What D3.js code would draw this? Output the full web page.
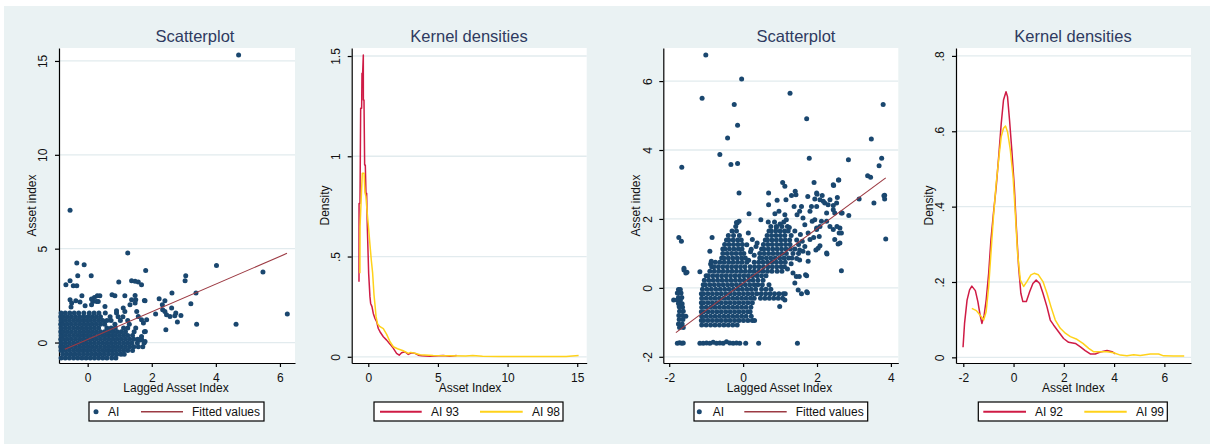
<!DOCTYPE html>
<html>
<head>
<meta charset="utf-8">
<script src="https://cdn.jsdelivr.net/npm/d3@7"></script>
<style>
  body { margin: 0; background: #fff; }
  text { font-family: "Liberation Sans", Arial, sans-serif; }
</style>
</head>
<body>
<svg width="1210" height="444"></svg>
<script>
// ---- data ----

// panel 1: scattered points [lagged, current]
const scatter1Points = [
  [4.71,15.32],[-0.55,7.05],[1.25,4.77],[4.02,4.11],[5.47,3.76],[6.23,1.52],[4.63,0.98],[3.40,0.98],
  [2.44,0.68],[-0.34,4.24],[-0.11,4.15],[0.11,3.56],[-0.31,3.56],[-0.55,3.29],[-0.68,3.08],[-0.45,3.03],
  [-0.34,3.03],[0.97,3.22],[1.37,3.29],[1.48,3.26],[1.58,3.22],[1.68,3.08],[1.81,3.84],[3.06,3.56],
  [3.04,3.29],[3.38,2.64],[2.63,2.64],[3.22,2.07],[2.23,2.33],[2.41,2.23],[2.33,2.01],[2.12,1.52],
  [2.34,1.75],[2.41,1.66],[2.57,1.39],[2.62,1.84],[2.75,1.57],[2.80,1.09],[2.91,1.44],[2.72,1.43],
  [2.46,1.48],[1.84,1.21],[1.80,0.59],[1.79,0.05],[1.79,2.23],[1.50,2.28],[1.16,2.49],[0.76,2.55],
  [0.85,2.49],[0.38,2.49],[0.21,2.40],[0.33,2.19],[0.16,2.19],[-0.18,2.49],[-0.37,2.23],[-0.55,2.28],
  [-0.50,2.10],[-0.52,1.89],[-0.24,2.16],[-0.08,1.96],[0.12,2.01],[0.28,2.19],[0.54,1.92],[1.37,2.28],
  [1.11,1.84],[1.16,1.66],[1.53,1.66],[1.58,1.39],[1.68,1.21],[1.74,1.04],[1.48,2.51],[1.77,2.24],
  [1.32,2.01],[1.48,2.10],[0.90,1.69],[0.30,2.49],[0.12,2.32],[1.68,0.32],[1.63,0.14]
];
// panel 1: dense core, rows of [current, [lagged values]]
const scatter1Core = [
  [-0.82, [-0.83,-0.70,-0.57,-0.44,-0.31,-0.18,-0.05,0.08,0.21,0.34,0.47,0.60,0.75,0.88]],
  [-0.62, [-0.78,-0.65,-0.52,-0.39,-0.26,-0.13,0.00,0.13,0.26,0.39,0.52,0.65,0.78,0.91,1.04,1.14]],
  [-0.42, [-0.83,-0.70,-0.57,-0.44,-0.31,-0.18,-0.05,0.08,0.21,0.34,0.47,0.60,0.73,0.86,0.99,1.12,1.25,1.40]],
  [-0.22, [-0.84,-0.77,-0.64,-0.51,-0.38,-0.25,-0.12,0.01,0.14,0.27,0.40,0.53,0.66,0.79,0.92,1.05,1.18,1.31,1.44,1.58,1.72]],
  [-0.02, [-0.83,-0.70,-0.57,-0.44,-0.31,-0.18,-0.05,0.08,0.21,0.34,0.47,0.60,0.73,0.86,0.99,1.12,1.25,1.38,1.55,1.76]],
  [0.18, [-0.84,-0.77,-0.64,-0.51,-0.38,-0.25,-0.12,0.01,0.14,0.27,0.40,0.53,0.66,0.79,0.92,1.05,1.18,1.31,1.44,1.56,1.68]],
  [0.38, [-0.83,-0.70,-0.57,-0.44,-0.31,-0.18,-0.05,0.08,0.21,0.34,0.47,0.60,0.73,0.86,0.99,1.12,1.25,1.40]],
  [0.58, [-0.84,-0.77,-0.64,-0.51,-0.38,-0.25,-0.12,0.01,0.14,0.27,0.40,0.53,0.66,0.79,0.92,1.05,1.18,1.45,1.77]],
  [0.78, [-0.83,-0.70,-0.57,-0.44,-0.31,-0.18,-0.05,0.08,0.21,0.34,0.60,0.73,0.86,1.12,1.25,1.50]],
  [0.98, [-0.84,-0.77,-0.64,-0.51,-0.38,-0.25,-0.12,0.01,0.14,0.27,0.40,0.53,0.85,1.30]],
  [1.18, [-0.83,-0.70,-0.57,-0.44,-0.31,-0.18,-0.05,0.08,0.21,0.34,0.47,0.60,0.73,1.02,1.25]],
  [1.38, [-0.84,-0.77,-0.64,-0.51,-0.38,-0.25,-0.12,0.01,0.14,0.27,0.40,0.70,0.95,1.10]],
  [1.58, [-0.83,-0.70,-0.56,-0.42,-0.28,-0.12,0.05,0.20,0.35,0.55,0.90]]
];
const fit1 = [[-0.71,-0.36],[6.22,4.75]];

// panel 2: kernel densities
const kdAI93 = [
  [-0.667,0.374],[-0.662,0.765],[-0.595,0.765],[-0.547,1.239],[-0.476,1.239],[-0.452,1.414],[-0.404,1.414],
  [-0.356,1.505],[-0.352,1.281],[-0.308,1.281],[-0.26,0.957],[-0.213,0.957],[-0.165,0.815],[-0.117,0.815],
  [-0.069,0.649],[0.027,0.416],[0.12,0.30],[0.17,0.266],[0.265,0.25],[0.36,0.216],[0.48,0.191],[0.60,0.175],
  [0.72,0.141],[0.84,0.125],[1.08,0.100],[1.32,0.083],[1.56,0.063],[1.80,0.042],[2.03,0.017],[2.22,0.008],
  [2.39,0.02],[2.63,0.025],[2.87,0.012],[3.11,0.02],[3.35,0.017],[3.59,0.008],[3.83,0.005],[4.43,0.003],
  [5.38,0.006],[5.86,0.003],[6.34,0.006]
];
const kdAI98 = [
  [-0.60,0.416],[-0.59,0.65],[-0.43,0.915],[-0.30,0.915],[-0.24,0.82],[-0.17,0.80],[-0.08,0.72],[0.0,0.66],
  [0.12,0.56],[0.22,0.48],[0.31,0.42],[0.41,0.31],[0.48,0.26],[0.56,0.20],[0.66,0.165],[0.84,0.15],
  [1.08,0.14],[1.32,0.112],[1.56,0.075],[1.80,0.05],[2.10,0.04],[2.51,0.03],[2.87,0.017],[3.05,0.022],
  [3.35,0.018],[3.71,0.01],[4.66,0.006],[5.86,0.005],[7.0,0.004],[7.5,0.006],[8.2,0.003],[9.4,0.002],
  [12.0,0.002],[14.2,0.002],[15.1,0.006]
];

// panel 3: scattered points
const scatter2Points = [
  [-1.01,6.76],[-0.04,6.06],[-1.11,5.50],[-0.24,5.32],[1.27,5.65],[3.79,5.32],[-0.15,4.72],[1.72,4.91],
  [-0.42,4.35],[3.47,4.32],[-0.63,3.87],[-1.66,3.50],[-0.33,3.58],[-0.15,3.61],[1.79,3.76],[2.85,3.72],
  [3.75,3.76],[3.68,3.54],[3.37,3.25],[3.45,3.21],[1.07,3.06],[1.13,2.95],[1.92,3.06],[2.59,3.13],
  [2.45,2.97],[-0.11,2.75],[0.69,2.75],[1.41,2.80],[1.31,2.68],[1.99,2.75],[2.14,2.68],[1.75,2.65],
  [2.55,2.62],[3.83,2.69],[1.43,2.70],[0.69,2.41],[0.92,2.54],[1.16,2.56],[1.38,2.36],[1.58,2.36],
  [1.85,2.36],[1.94,2.58],[2.21,2.46],[2.30,2.41],[2.44,2.39],[2.48,2.17],[2.66,2.17],[2.86,2.10],
  [3.14,2.58],[3.54,2.46],[3.81,2.67],[3.83,2.58],[0.16,2.15],[0.48,1.98],[0.86,2.15],[0.97,2.22],
  [1.13,2.12],[1.17,1.98],[1.46,2.12],[1.53,2.22],[1.62,2.03],[1.67,1.83],[1.87,1.93],[1.99,1.74],
  [2.12,1.93],[2.26,1.93],[2.62,1.74],[2.66,1.59],[2.48,1.40],[2.62,1.30],[2.06,1.49],[2.26,1.01],
  [1.97,1.10],[2.66,0.50],[3.86,1.42],[-1.74,1.46],[-1.67,1.35],[-1.60,0.52],[-1.55,0.43],[-1.17,0.47],
  [-0.84,1.46],[-0.90,1.06],[-0.88,0.69],[-0.16,1.88],[-0.11,1.93],[0.14,1.59],[1.44,0.33],[1.49,-0.06],
  [1.72,-0.11],[1.69,0.38],[1.40,0.14],[0.99,-0.54],[1.13,-0.35],[1.47,-1.61],[0.42,-1.61],[0.07,-1.61],
  [2.35,1.78],[2.44,1.69],[2.26,2.17],[2.17,2.51],[2.35,2.56],[2.53,2.46],[2.44,2.27],[2.08,2.56],
  [1.99,2.36],[1.81,2.22],[1.94,1.98],[2.00,2.72],[1.76,1.59],[1.81,1.40],[1.67,1.20],[1.53,1.10],
  [1.76,1.01],[1.53,0.81],[1.76,0.77],[1.35,0.43],[1.52,0.33],[1.72,0.35],[1.58,-0.17],[1.74,-0.14],
  [2.03,1.15],[2.08,1.22],[1.91,1.46],[1.99,1.69],[2.08,1.78],[2.54,1.78],[2.60,1.59],[2.57,1.27],
  [2.27,0.98],[2.68,2.17],[2.44,2.99],[2.58,3.13],[-0.18,1.90],[-0.86,0.77],[-1.52,0.45],[-1.60,0.57],
  [0.20,1.05],[0.30,0.95],[0.35,1.20],[0.25,1.40],[0.90,1.75],[1.00,1.85],[1.25,1.75],[1.40,1.65],
  [1.55,1.55],[1.60,1.35],[1.50,1.00],[1.45,0.85],[1.30,0.70],[1.20,0.55],[1.62,1.06],[-1.88,-0.35],
  [0.15,0.80],[0.22,1.12],[0.38,1.30],[0.10,1.25],
  // left column near -1.7
  [-1.75,-0.05],[-1.70,-0.05],[-1.78,-0.15],[-1.68,-0.15],[-1.75,-0.28],[-1.66,-0.28],[-1.79,-0.35],
  [-1.70,-0.36],[-1.75,-0.45],[-1.65,-0.46],[-1.73,-0.55],[-1.64,-0.56],[-1.72,-0.68],[-1.62,-0.68],
  [-1.74,-0.80],[-1.64,-0.80],[-1.55,-0.82],[-1.73,-0.92],[-1.63,-0.92],[-1.75,-1.05],[-1.65,-1.05],
  [-1.72,-1.15],[-1.62,-1.15],
  // bottom row
  [-1.78,-1.61],[-1.72,-1.59],[-1.66,-1.61],[-1.62,-1.60],[-1.17,-1.61],[-1.08,-1.61],[-0.99,-1.60],
  [-0.90,-1.61],[-0.81,-1.58],[-0.72,-1.61],[-0.63,-1.60],[-0.54,-1.61],[-0.45,-1.56],[-0.36,-1.60],
  [-0.27,-1.61],[-0.18,-1.60],[-0.09,-1.61]
];
// panel 3: dense core rows
const scatter2Core = [
  [-1.08, [-1.12,-1.00,-0.88,-0.76,-0.64,-0.52,-0.40,-0.28,-0.16]],
  [-0.95, [-1.13,-1.07,-0.95,-0.83,-0.71,-0.59,-0.47,-0.35,-0.23,-0.11,0.01,0.13,0.25,0.31]],
  [-0.82, [-1.12,-1.00,-0.88,-0.76,-0.64,-0.52,-0.40,-0.28,-0.16,-0.04,0.08,0.22]],
  [-0.69, [-1.13,-1.07,-0.95,-0.83,-0.71,-0.59,-0.47,-0.35,-0.23,-0.11,0.01,0.13,0.19]],
  [-0.56, [-1.12,-1.00,-0.88,-0.76,-0.64,-0.52,-0.40,-0.28,-0.16,-0.04,0.08,0.21]],
  [-0.43, [-1.13,-1.07,-0.95,-0.83,-0.71,-0.59,-0.47,-0.35,-0.23,-0.11,0.01,0.13,0.25]],
  [-0.30, [-1.12,-1.00,-0.88,-0.76,-0.64,-0.52,-0.40,-0.28,-0.16,-0.04,0.08,0.20,0.30,0.47,0.59,0.71,0.83,0.95,1.07]],
  [-0.17, [-1.13,-1.07,-0.95,-0.83,-0.71,-0.59,-0.47,-0.35,-0.23,-0.11,0.01,0.13,0.25,0.37,0.49,0.61,0.73,0.85,0.97,1.09,1.14]],
  [-0.04, [-1.10,-0.98,-0.86,-0.74,-0.62,-0.50,-0.38,-0.26,-0.14,-0.02,0.10,0.22,0.34,0.50,0.62,0.75]],
  [0.09, [-1.08,-1.02,-0.90,-0.78,-0.66,-0.54,-0.42,-0.30,-0.18,-0.06,0.06,0.18,0.30,0.40,0.52,0.70]],
  [0.22, [-1.05,-0.93,-0.81,-0.69,-0.57,-0.45,-0.33,-0.21,-0.09,0.03,0.15,0.27,0.40,0.54]],
  [0.35, [-1.00,-0.94,-0.82,-0.70,-0.58,-0.46,-0.34,-0.22,-0.10,0.02,0.14,0.26,0.38,0.50,0.62]],
  [0.48, [-0.90,-0.78,-0.66,-0.54,-0.42,-0.30,-0.18,-0.06,0.06,0.18,0.30,0.42,0.54,0.66,0.78,0.92,1.05]],
  [0.61, [-0.85,-0.79,-0.67,-0.55,-0.43,-0.31,-0.19,-0.07,0.05,0.19,0.31,0.43,0.55,0.67,0.79,0.91,1.03,1.12]],
  [0.74, [-0.75,-0.63,-0.51,-0.39,-0.27,-0.15,-0.03,0.10,0.30,0.42,0.54,0.66,0.78,0.90,1.02,1.14]],
  [0.87, [-0.58,-0.52,-0.40,-0.28,-0.16,-0.04,0.06,0.45,0.51,0.63,0.75,0.87,0.99,1.11,1.23,1.32]],
  [1.00, [-0.55,-0.43,-0.31,-0.19,-0.07,0.02,0.45,0.57,0.69,0.81,0.93,1.05,1.17,1.35]],
  [1.13, [-0.55,-0.49,-0.37,-0.25,-0.13,-0.03,0.50,0.56,0.68,0.80,0.92,1.04,1.16,1.28,1.40]],
  [1.26, [-0.50,-0.38,-0.26,-0.14,-0.02,0.55,0.67,0.79,0.91,1.03,1.15,1.27,1.50]],
  [1.39, [-0.45,-0.39,-0.27,-0.15,-0.05,0.60,0.66,0.78,0.90,1.02,1.14,1.26,1.45]],
  [1.52, [-0.40,-0.26,-0.10,0.65,0.77,0.89,1.01,1.13,1.30]],
  [1.65, [-0.30,-0.18,0.70,0.76,0.88,1.00,1.12,1.22]],
  [1.78, [-0.20,0.75,0.90,1.05,1.20]],
  [1.91, [0.68,0.85,1.10]]
];
const fit2 = [[-1.82,-1.30],[3.86,3.19]];

// panel 4: kernel densities
const kdAI92 = [
  [-2.01,0.027],[-1.95,0.09],[-1.85,0.152],[-1.75,0.179],[-1.66,0.189],[-1.52,0.177],[-1.42,0.148],
  [-1.33,0.112],[-1.26,0.09],[-1.17,0.112],[-1.09,0.152],[-0.99,0.223],[-0.90,0.312],[-0.80,0.382],
  [-0.69,0.453],[-0.58,0.542],[-0.49,0.621],[-0.40,0.683],[-0.30,0.705],[-0.24,0.692],[-0.16,0.630],
  [-0.07,0.551],[0.03,0.453],[0.11,0.347],[0.20,0.241],[0.29,0.170],[0.37,0.148],[0.51,0.148],
  [0.64,0.174],[0.77,0.196],[0.90,0.205],[1.04,0.196],[1.17,0.170],[1.33,0.134],[1.46,0.099],
  [1.59,0.086],[1.79,0.068],[1.99,0.050],[2.19,0.040],[2.46,0.037],[2.66,0.028],[2.85,0.018],
  [3.05,0.009],[3.25,0.009],[3.45,0.014],[3.72,0.018],[3.92,0.015],[4.05,0.009]
];
const kdAI99 = [
  [-1.66,0.130],[-1.48,0.124],[-1.33,0.112],[-1.19,0.099],[-1.09,0.121],[-0.99,0.188],[-0.90,0.276],
  [-0.80,0.373],[-0.69,0.462],[-0.58,0.533],[-0.49,0.586],[-0.40,0.608],[-0.32,0.614],[-0.24,0.599],
  [-0.13,0.551],[-0.02,0.480],[0.07,0.382],[0.16,0.276],[0.27,0.205],[0.40,0.188],[0.53,0.201],
  [0.69,0.219],[0.82,0.223],[0.99,0.219],[1.17,0.201],[1.33,0.170],[1.49,0.134],[1.66,0.099],
  [1.86,0.077],[2.06,0.064],[2.26,0.055],[2.52,0.048],[2.76,0.037],[2.99,0.024],[3.18,0.015],
  [3.45,0.015],[3.72,0.015],[3.98,0.012],[4.25,0.006],[4.51,0.004],[4.78,0.007],[5.04,0.005],
  [5.44,0.009],[5.77,0.009],[5.97,0.004],[6.37,0.0035],[6.79,0.0035]
];

// ticks
const p1XTicks = [0, 2, 4, 6],      p1YTicks = [0, 5, 10, 15];
const p2XTicks = [0, 5, 10, 15],    p2YTicks = [0, 0.5, 1, 1.5];
const p3XTicks = [-2, 0, 2, 4],     p3YTicks = [-2, 0, 2, 4, 6];
const p4XTicks = [-2, 0, 2, 4, 6],  p4YTicks = [0, 0.2, 0.4, 0.6, 0.8];

// ---- drawing ----
const navy = "#1a476f", maroon = "#9c3a43", cranberry = "#cf1b45", gold = "#ffd21a";
const markerR = 2.5;
const svg = d3.select("svg");

svg.append("rect")
    .attr("x", 4).attr("y", 6)
    .attr("width", 1206).attr("height", 438)
    .attr("fill", "#eaf2f3");

// Stata style labels: ".5" instead of "0.5"
const stataFmt = d => d === 0 ? "0" : String(d).replace(/^(-?)0\./, "$1.");

const panels = [
  {left: 59, right: 295, xDom: [-0.895, 6.47], yDom: [-1.09, 15.69], xTicks: p1XTicks, yTicks: p1YTicks,
   title: "Scatterplot", titleX: 195, xTitle: "Lagged Asset Index", xTitleX: 176, yTitle: "Asset index"},
  {left: 351.7, right: 586.7, xDom: [-1.19, 15.68], yDom: [-0.031, 1.54], xTicks: p2XTicks, yTicks: p2YTicks,
   title: "Kernel densities", titleX: 469, xTitle: "Asset Index", xTitleX: 470, yTitle: "Density"},
  {left: 663.3, right: 898.3, xDom: [-2.16, 4.20], yDom: [-2.18, 6.96], xTicks: p3XTicks, yTicks: p3YTicks,
   title: "Scatterplot", titleX: 796, xTitle: "Lagged Asset Index", xTitleX: 779.5, yTitle: "Asset index"},
  {left: 956, right: 1191, xDom: [-2.29, 7.06], yDom: [-0.015, 0.821], xTicks: p4XTicks, yTicks: p4YTicks,
   title: "Kernel densities", titleX: 1073, xTitle: "Asset Index", xTitleX: 1073.3, yTitle: "Density"}
];
const plotTop = 48, plotBottom = 363;

function drawPanel(p) {
  const g = svg.append("g");
  const x = d3.scaleLinear().domain(p.xDom).range([p.left, p.right]);
  const y = d3.scaleLinear().domain(p.yDom).range([plotBottom, plotTop]);

  g.append("rect")
      .attr("x", p.left).attr("y", plotTop)
      .attr("width", p.right - p.left).attr("height", plotBottom - plotTop)
      .attr("fill", "#fff");

  // horizontal grid
  g.selectAll(".grid")
    .data(p.yTicks)
    .enter().append("line")
      .attr("x1", p.left).attr("x2", p.right)
      .attr("y1", d => y(d)).attr("y2", d => y(d))
      .attr("stroke", "#e2ebee")
      .attr("stroke-width", 1.3);

  const xAxis = g.append("g")
      .attr("transform", `translate(0,${plotBottom})`)
      .call(d3.axisBottom(x).tickValues(p.xTicks).tickFormat(stataFmt).tickSize(4).tickSizeOuter(0));
  xAxis.selectAll("text").attr("y", 18.5).attr("dy", 0);

  const yAxis = g.append("g")
      .attr("transform", `translate(${p.left},0)`)
      .call(d3.axisLeft(y).tickValues(p.yTicks).tickFormat(stataFmt).tickSize(4).tickSizeOuter(0));
  yAxis.selectAll("text")
      .attr("x", 0).attr("dy", 0)
      .attr("text-anchor", "middle")
      .attr("transform", "translate(-11.8,0) rotate(-90)");

  [xAxis, yAxis].forEach(a => {
    a.attr("color", "#000").attr("font-size", 12).attr("font-family", null);
    a.selectAll("path, line").attr("stroke-width", 1.2);
    a.selectAll("text").attr("fill", "#111");
  });

  svg.append("text")
      .attr("x", p.titleX).attr("y", 42)
      .attr("text-anchor", "middle")
      .attr("font-size", 16.5)
      .attr("fill", "#2e3a60")
      .text(p.title);

  svg.append("text")
      .attr("x", p.xTitleX).attr("y", 392)
      .attr("text-anchor", "middle")
      .attr("font-size", 12)
      .attr("fill", "#111")
      .text(p.xTitle);

  svg.append("text")
      .attr("transform", `translate(${p.left - 23},${(plotTop + plotBottom) / 2}) rotate(-90)`)
      .attr("text-anchor", "middle")
      .attr("font-size", 12)
      .attr("fill", "#111")
      .text(p.yTitle);

  return {g, x, y};
}

const flattenCore = rows => rows.flatMap(([yv, xs]) => xs.map(xv => [xv, yv]));

function drawScatter(s, pts, core, fit) {
  const all = flattenCore(core).concat(pts);
  s.g.append("g").selectAll("circle")
    .data(all)
    .enter().append("circle")
      .attr("cx", d => s.x(d[0]))
      .attr("cy", d => s.y(d[1]))
      .attr("r", markerR)
      .attr("fill", navy);
  s.g.append("path")
      .datum(fit)
      .attr("d", d3.line().x(d => s.x(d[0])).y(d => s.y(d[1])))
      .attr("stroke", maroon)
      .attr("stroke-width", 1.1)
      .attr("fill", "none");
}

function drawDensity(s, series) {
  series.forEach(([data, color]) => {
    s.g.append("path")
        .datum(data)
        .attr("d", d3.line().x(d => s.x(d[0])).y(d => s.y(d[1])))
        .attr("stroke", color)
        .attr("stroke-width", 1.5)
        .attr("stroke-linejoin", "round")
        .attr("fill", "none");
  });
}

const s1 = drawPanel(panels[0]);
drawScatter(s1, scatter1Points, scatter1Core, fit1);
const s2 = drawPanel(panels[1]);
drawDensity(s2, [[kdAI93, cranberry], [kdAI98, gold]]);
const s3 = drawPanel(panels[2]);
drawScatter(s3, scatter2Points, scatter2Core, fit2);
const s4 = drawPanel(panels[3]);
drawDensity(s4, [[kdAI92, cranberry], [kdAI99, gold]]);

// ---- legends ----
const legends = [
  {box: [89, 264], items: [
    {type: "marker", x1: 96, label: "AI", tx: 108},
    {type: "line", x1: 141, x2: 183, color: maroon, width: 1.6, label: "Fitted values", tx: 192}]},
  {box: [374, 563], items: [
    {type: "line", x1: 380, x2: 421.7, color: cranberry, width: 2, label: "AI 93", tx: 431},
    {type: "line", x1: 480, x2: 522.7, color: gold, width: 2, label: "AI 98", tx: 532}]},
  {box: [694, 867.7], items: [
    {type: "marker", x1: 699.3, label: "AI", tx: 712.7},
    {type: "line", x1: 744.3, x2: 786.7, color: maroon, width: 1.6, label: "Fitted values", tx: 795.7}]},
  {box: [978.3, 1167.3], items: [
    {type: "line", x1: 983.3, x2: 1026, color: cranberry, width: 2, label: "AI 92", tx: 1035},
    {type: "line", x1: 1084.3, x2: 1126.7, color: gold, width: 2, label: "AI 99", tx: 1136}]}
];

legends.forEach(l => {
  const g = svg.append("g");
  g.append("rect")
      .attr("x", l.box[0]).attr("y", 402)
      .attr("width", l.box[1] - l.box[0]).attr("height", 19)
      .attr("fill", "#fff")
      .attr("stroke", "#000")
      .attr("stroke-width", 1.2);
  l.items.forEach(it => {
    if (it.type === "marker") {
      g.append("circle").attr("cx", it.x1).attr("cy", 411.8).attr("r", markerR).attr("fill", navy);
    } else {
      g.append("line")
          .attr("x1", it.x1).attr("x2", it.x2)
          .attr("y1", 411.8).attr("y2", 411.8)
          .attr("stroke", it.color)
          .attr("stroke-width", it.width);
    }
    g.append("text")
        .attr("x", it.tx).attr("y", 416.2)
        .attr("font-size", 12)
        .attr("fill", "#111")
        .text(it.label);
  });
});
</script>
</body>
</html>
